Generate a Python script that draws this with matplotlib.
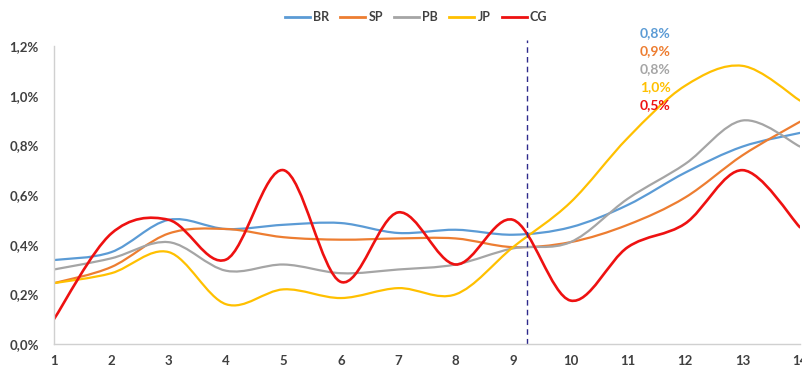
import matplotlib.pyplot as plt
from matplotlib.path import Path
from matplotlib.patches import PathPatch
from matplotlib.lines import Line2D

plt.rcParams['font.family'] = ['Lato', 'DejaVu Sans']

periods = list(range(1, 15))

br = [0.338, 0.37, 0.50, 0.463, 0.48, 0.487, 0.447, 0.46, 0.44, 0.47, 0.56, 0.69, 0.795, 0.85]
sp = [0.245, 0.31, 0.445, 0.463, 0.43, 0.42, 0.425, 0.425, 0.39, 0.41, 0.48, 0.59, 0.76, 0.895]
pb = [0.30, 0.345, 0.41, 0.295, 0.32, 0.285, 0.30, 0.32, 0.385, 0.41, 0.585, 0.725, 0.90, 0.795]
jp = [0.245, 0.285, 0.37, 0.16, 0.22, 0.185, 0.225, 0.20, 0.39, 0.57, 0.83, 1.04, 1.12, 0.98]
cg = [0.10, 0.445, 0.50, 0.34, 0.70, 0.25, 0.53, 0.32, 0.50, 0.175, 0.39, 0.485, 0.70, 0.47]

names = ['BR', 'SP', 'PB', 'JP', 'CG']
colors = ['#5B9BD5', '#ED7D31', '#A5A5A5', '#FFC000', '#EE1111']
widths = [1.6, 1.6, 1.6, 1.6, 1.9]
last_labels = ['0,8%', '0,9%', '0,8%', '1,0%', '0,5%']
cut_period = 9.25


def smooth_path(xs, ys):
    # Excel-style smoothed line: cubic bezier through every point
    verts = [(xs[0], ys[0])]
    codes = [Path.MOVETO]
    n = len(xs)
    for i in range(n - 1):
        x0, y0 = (xs[i - 1], ys[i - 1]) if i > 0 else (xs[i], ys[i])
        x3, y3 = (xs[i + 2], ys[i + 2]) if i + 2 < n else (xs[i + 1], ys[i + 1])
        c1 = (xs[i] + (xs[i + 1] - x0) / 6, ys[i] + (ys[i + 1] - y0) / 6)
        c2 = (xs[i + 1] - (x3 - xs[i]) / 6, ys[i + 1] - (y3 - ys[i]) / 6)
        verts += [c1, c2, (xs[i + 1], ys[i + 1])]
        codes += [Path.CURVE4] * 3
    return Path(verts, codes)


fig = plt.figure(figsize=(8.03, 3.70), dpi=100)
ax = fig.add_axes([0.0672, 0.0703, 0.929, 0.8054])

for vals, col, lw in zip([br, sp, pb, jp, cg], colors, widths):
    ax.add_patch(PathPatch(smooth_path(periods, vals), fill=False,
                           edgecolor=col, linewidth=lw, capstyle='round'))

ax.axvline(cut_period, ymin=0, ymax=1.02, color='#2E2A8C', linestyle=(0, (4, 3)),
           linewidth=1.0, clip_on=False)

ax.set_xlim(1, 14)
ax.set_ylim(0, 1.2)
ax.set_xticks(periods)
ax.set_xticklabels([str(p) for p in periods])
yt = [0, 0.2, 0.4, 0.6, 0.8, 1.0, 1.2]
ax.set_yticks(yt)
ax.set_yticklabels([f'{v:.1f}%'.replace('.', ',') for v in yt])
ax.tick_params(length=0, labelsize=9.5, colors='#404040', pad=8)
for lab in ax.get_xticklabels() + ax.get_yticklabels():
    lab.set_fontweight('bold')
ax.tick_params(axis='y', pad=11)

for side in ['top', 'right']:
    ax.spines[side].set_visible(False)
for side in ['left', 'bottom']:
    ax.spines[side].set_color('#D0D0D0')
    ax.spines[side].set_linewidth(1.0)

handles = [Line2D([], [], color=c, linewidth=2) for c in colors]
leg = fig.legend(handles, names, loc='center', bbox_to_anchor=(0.518, 0.953), ncol=5,
                 frameon=False, handlelength=2.0, handletextpad=0.25, columnspacing=0.9,
                 prop={'weight': 'bold', 'size': 9})
for t in leg.get_texts():
    t.set_color('#404040')

for i, (lab, col) in enumerate(zip(last_labels, colors)):
    fig.text(0.797, 1 - (33 + 18 * i) / 370, lab, color=col, fontsize=10,
             fontweight='bold', ha='left', va='center')

fig.savefig('out.png', dpi=100)
